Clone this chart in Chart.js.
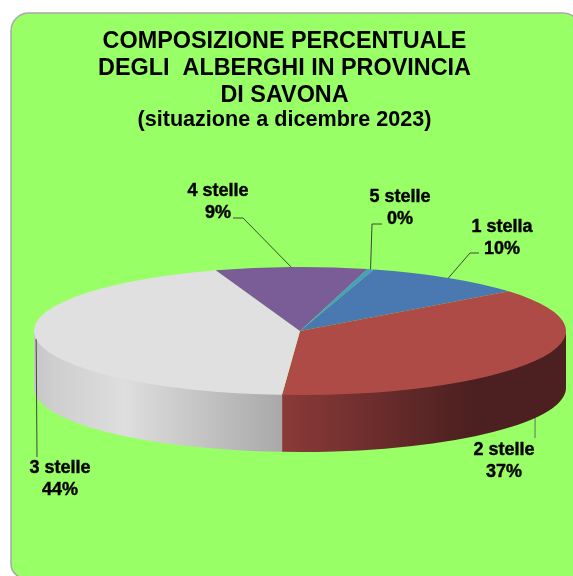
<!DOCTYPE html>
<html><head><meta charset="utf-8">
<style>html,body{margin:0;padding:0;background:#fff;overflow:hidden}canvas{display:block;filter:blur(0.45px)}</style>
<script src="https://cdn.jsdelivr.net/npm/chart.js@4"></script></head>
<body><div style="width:573px;height:576px"><canvas id="c" width="573" height="576"></canvas></div>
<script>
const categories = ["1 stella","2 stelle","3 stelle","4 stelle","5 stelle"];
const values = [9.9,36.7,43.8,9.2,0.4];
const percentLabels = ["10%","37%","44%","9%","0%"];
const topColors = ["#4a78b0","#ae4b47","#e0e0e0","#7a5c96","#45a0b8"];
const titleLines = ["COMPOSIZIONE PERCENTUALE","DEGLI  ALBERGHI IN PROVINCIA","DI SAVONA"];
const subtitleLine = "(situazione a dicembre 2023)";

const FONT = '"Liberation Sans", Arial, sans-serif';
const SQUASH = 64/266, DEPTH = 57, SHIFT_X = 15.5, CY = 331;
// manual placement of the callouts (text centre and leader path)
const callouts = [
  {tx:502, ty:227, bend:[[470,253],[479,253]]},
  {tx:504, ty:450, bend:[[535,438]], behind:true},
  {tx:60,  ty:468, bend:[[37,457]]},
  {tx:218, ty:191, bend:[[243,218],[233,218]]},
  {tx:400, ty:197, bend:[[372,224],[382,224]]}
];
function rim(a, ang){ return [a.x+SHIFT_X+a.outerRadius*Math.cos(ang), CY+a.outerRadius*SQUASH*Math.sin(ang)]; }
function leader(ctx, a, c){
  const p = rim(a,(a.startAngle+a.endAngle)/2);
  ctx.save(); ctx.strokeStyle = c.behind ? '#5a7a50' : '#3c4a34'; ctx.lineWidth = 1;
  ctx.beginPath(); ctx.moveTo(p[0],p[1]); c.bend.forEach(b=>ctx.lineTo(b[0],b[1])); ctx.stroke(); ctx.restore();
}
const pie3d = {
  id:'pie3d',
  beforeDraw(chart){
    const ctx = chart.ctx;
    ctx.save(); ctx.fillStyle='#99ff66'; ctx.strokeStyle='#a8a8a8'; ctx.lineWidth=1.5;
    ctx.beginPath(); ctx.roundRect(11,13,570,565,[18,18,14,14]); ctx.fill(); ctx.stroke(); ctx.restore();
  },
  beforeDatasetDraw(chart){
    const ctx = chart.ctx, arcs = chart.getDatasetMeta(0).data;
    arcs.forEach((a,i)=>{ if(callouts[i].behind) leader(ctx,a,callouts[i]); });
    // side wall of the disc: only the front half (0..PI on screen) is seen
    arcs.forEach((a,i)=>{
      const s = ((a.startAngle%(2*Math.PI))+2*Math.PI)%(2*Math.PI);
      const e = s+(a.endAngle-a.startAngle);
      [[s,e],[s-2*Math.PI,e-2*Math.PI]].forEach(([s0,e0])=>{
        const from=Math.max(s0,0), to=Math.min(e0,Math.PI);
        if(to<=from) return;
        const cx=a.x+SHIFT_X, rx=a.outerRadius, ry=rx*SQUASH;
        const g=ctx.createLinearGradient(cx-rx,0,cx+rx,0);
        if(i===1){ g.addColorStop(0,'#8a3a38'); g.addColorStop(.47,'#8a3a38'); g.addColorStop(.82,'#4c2020'); g.addColorStop(1,'#4c2020'); }
        else { g.addColorStop(0,'#c6c6c6'); g.addColorStop(.04,'#cfcfcf'); g.addColorStop(.17,'#dedede'); g.addColorStop(.47,'#a8a8a8'); g.addColorStop(1,'#a8a8a8'); }
        ctx.save(); ctx.fillStyle=g;
        ctx.beginPath();
        ctx.ellipse(cx,CY-1.5,rx,ry,0,from,to,false);
        ctx.ellipse(cx,CY+DEPTH,rx,ry,0,to,from,true);
        ctx.closePath(); ctx.fill(); ctx.restore();
      });
    });
    const y0 = arcs[0].y;
    ctx.save();
    ctx.translate(SHIFT_X, CY-y0*SQUASH);
    ctx.scale(1,SQUASH);
  },
  afterDatasetDraw(chart){ chart.ctx.restore(); },
  afterDatasetsDraw(chart){
    const ctx = chart.ctx, arcs = chart.getDatasetMeta(0).data;
    arcs.forEach((a,i)=>{ if(!callouts[i].behind) leader(ctx,a,callouts[i]); });
    ctx.save(); ctx.fillStyle='#000'; ctx.strokeStyle='#000'; ctx.lineWidth=0.4; ctx.font='bold 18px '+FONT; ctx.textAlign='center'; ctx.textBaseline='middle';
    callouts.forEach((c,i)=>{
      ctx.fillText(categories[i],c.tx,c.ty); ctx.strokeText(categories[i],c.tx,c.ty);
      ctx.fillText(percentLabels[i],c.tx,c.ty+22); ctx.strokeText(percentLabels[i],c.tx,c.ty+22);
    });
    ctx.restore();
  }
};
new Chart(document.getElementById('c'),{
  type:'pie',
  data:{labels:categories,datasets:[{data:values,backgroundColor:topColors,borderWidth:0,hoverOffset:0,clip:false,radius:266}]},
  plugins:[pie3d],
  options:{
    responsive:false,animation:false,events:[],rotation:16.1,
    layout:{padding:{left:0,right:4,top:28.5,bottom:42}},
    plugins:{
      legend:{display:false},tooltip:{enabled:false},
      title:{display:true,text:titleLines,color:'#000',font:{family:FONT,size:23.4,weight:'bold',lineHeight:1.14},padding:{top:0,bottom:0}},
      subtitle:{display:true,text:subtitleLine,color:'#000',font:{family:FONT,size:21.6,weight:'bold',lineHeight:1.08},padding:{top:0,bottom:0}}
    }
  }
});
</script></body></html>
